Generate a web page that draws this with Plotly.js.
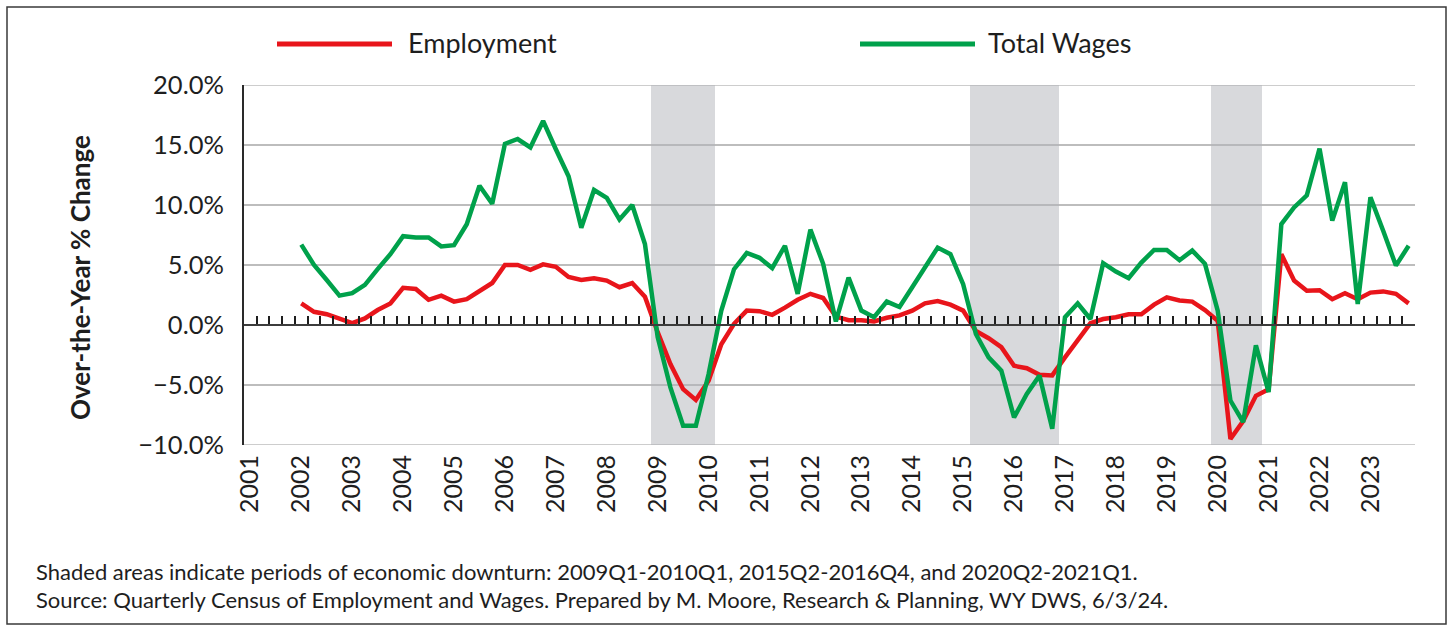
<!DOCTYPE html>
<html>
<head>
<meta charset="utf-8">
<script src="https://cdn.plot.ly/plotly-3.0.1.min.js"></script>
<style>
  body { margin: 0; background: #fff; }
  #chart { width: 1453px; height: 630px; }
</style>
</head>
<body>
<div id="chart"></div>
<script>
// axis years (first year has no over-the-year value)
var years = ['2001', '2002', '2003', '2004', '2005', '2006', '2007', '2008', '2009', '2010', '2011', '2012',
  '2013', '2014', '2015', '2016', '2017', '2018', '2019', '2020', '2021', '2022', '2023'];

// quarterly over-the-year % change, 2002Q1 .. 2023Q4
var employment = [
  1.8, 1.1, 0.9, 0.5,
  0.15, 0.55, 1.25, 1.8,
  3.1, 3.0, 2.1, 2.45,
  1.95, 2.15, 2.8, 3.5,
  5.0, 5.0, 4.6, 5.05,
  4.85, 4.0, 3.75, 3.9,
  3.7, 3.15, 3.5, 2.35,
  -0.6, -3.25, -5.35, -6.25,
  -4.65, -1.6, 0.1, 1.2,
  1.15, 0.85, 1.45, 2.1,
  2.6, 2.25, 0.7, 0.4,
  0.4, 0.3, 0.6, 0.8,
  1.2, 1.8, 2.0, 1.7,
  1.2, -0.5, -1.1, -1.85,
  -3.4, -3.6, -4.15, -4.2,
  -2.7, -1.3, 0.15, 0.5,
  0.65, 0.9, 0.9, 1.7,
  2.3, 2.05, 1.95, 1.25,
  0.35, -9.5, -8.0, -5.9,
  -5.35, 5.9, 3.7, 2.85,
  2.9, 2.15, 2.65, 2.15,
  2.7, 2.8, 2.6, 1.8
];

var totalWages = [
  6.7, 5.0, 3.75, 2.45,
  2.65, 3.35, 4.65, 5.9,
  7.4, 7.3, 7.3, 6.55,
  6.65, 8.4, 11.6, 10.1,
  15.1, 15.5, 14.8, 17.0,
  14.65, 12.4, 8.1, 11.25,
  10.6, 8.8, 10.0, 6.75,
  -1.0, -5.2, -8.4, -8.4,
  -4.1, 1.2, 4.65, 6.0,
  5.6, 4.75, 6.6, 2.6,
  7.95, 5.1, 0.3, 3.95,
  1.2, 0.65, 1.95, 1.5,
  3.15, 4.8, 6.45, 5.9,
  3.4, -0.75, -2.7, -3.8,
  -7.7, -5.75, -4.2, -8.65,
  0.65, 1.8, 0.5, 5.15,
  4.45, 3.9, 5.2, 6.25,
  6.25, 5.4, 6.2, 5.1,
  1.2, -6.3, -8.1, -1.7,
  -5.6, 8.4, 9.8, 10.8,
  14.7, 8.7, 11.9, 1.75,
  10.65, 7.85, 4.95, 6.6
];

// shaded quarters as drawn on the chart
var downturns = ['2009Q1', '2009Q2', '2009Q3', '2009Q4', '2010Q1',
  '2015Q2', '2015Q3', '2015Q4', '2016Q1', '2016Q2', '2016Q3', '2016Q4',
  '2020Q1', '2020Q2', '2020Q3', '2020Q4'];

var seriesNames = ['Employment', 'Total Wages'];
var seriesColors = ['#E8151B', '#00A14B'];

var notes = [
  'Shaded areas indicate periods of economic downturn: 2009Q1-2010Q1, 2015Q2-2016Q4, and 2020Q2-2021Q1.',
  'Source: Quarterly Census of Employment and Wages. Prepared by M. Moore, Research & Planning, WY DWS, 6/3/24.'
];

var quarters = [];
years.forEach(function (yr) {
  for (var q = 1; q <= 4; q++) quarters.push(yr + 'Q' + q);
});
var dataQuarters = quarters.slice(quarters.indexOf('2002Q1'));
var yearTicks = quarters.filter(function (q) { return q.slice(-2) == 'Q1'; });

var yMin = -10, yMax = 20;
var gridColor = '#bdbdbd';

// plot box in page pixels, used for placing the extra text
var L = 244, R = 1415, T = 85, B = 445;
function fx(p) { return (p - L) / (R - L); }
function fy(p) { return (B - p) / (B - T); }

var font = 'Lato, "Open Sans", sans-serif';
var ink = '#1e1e1e';

var shade = {
  type: 'bar',
  x: downturns,
  y: downturns.map(function () { return yMax - yMin; }),
  base: yMin,
  width: 1,
  marker: { color: 'rgba(178,180,186,0.5)', line: { width: 0 } },
  hoverinfo: 'skip',
  showlegend: false,
  xaxis: 'x',
  yaxis: 'y'
};

var data = [shade];
[employment, totalWages].forEach(function (vals, k) {
  data.push({
    type: 'scatter',
    mode: 'lines',
    name: seriesNames[k],
    x: dataQuarters,
    y: vals,
    line: { color: seriesColors[k], width: 4.5 },
    xaxis: 'x2',
    yaxis: 'y',
    showlegend: false
  });
});

var shapes = [
  { type: 'rect', xref: 'paper', yref: 'paper', x0: fx(7), x1: fx(1446), y0: fy(624), y1: fy(7),
    line: { color: '#3a3a3a', width: 1.5 } },
  // plotly skips the gridlines on the range ends, so draw those two
  { type: 'line', xref: 'paper', yref: 'y', x0: 0, x1: 1, y0: yMax, y1: yMax, layer: 'below',
    line: { color: gridColor, width: 1.6 } },
  { type: 'line', xref: 'paper', yref: 'y', x0: 0, x1: 1, y0: yMin, y1: yMin, layer: 'below',
    line: { color: gridColor, width: 1.6 } },
  // hand-made legend to get the long line samples
  { type: 'line', xref: 'paper', yref: 'paper', x0: fx(277), x1: fx(392), y0: fy(44), y1: fy(44),
    line: { color: seriesColors[0], width: 5 } },
  { type: 'line', xref: 'paper', yref: 'paper', x0: fx(860), x1: fx(975), y0: fy(44), y1: fy(44),
    line: { color: seriesColors[1], width: 5 } }
];

var annotations = [
  { text: seriesNames[0], xref: 'paper', yref: 'paper', x: fx(406), y: fy(43), xanchor: 'left', yanchor: 'middle',
    showarrow: false, font: { family: font, size: 27, color: ink } },
  { text: seriesNames[1], xref: 'paper', yref: 'paper', x: fx(986), y: fy(43), xanchor: 'left', yanchor: 'middle',
    showarrow: false, font: { family: font, size: 27, color: ink } },
  { text: 'Over-the-Year % Change', xref: 'paper', yref: 'paper', x: fx(80), y: fy(278), textangle: -90,
    xanchor: 'center', yanchor: 'middle', showarrow: false,
    font: { family: font, size: 26, color: ink, weight: 'bold' } },
  { text: notes[0], xref: 'paper', yref: 'paper', x: fx(34), y: fy(571), xanchor: 'left', yanchor: 'middle',
    showarrow: false, font: { family: font, size: 22, color: ink } },
  { text: notes[1], xref: 'paper', yref: 'paper', x: fx(34), y: fy(599), xanchor: 'left', yanchor: 'middle',
    showarrow: false, font: { family: font, size: 22, color: ink } }
];

var layout = {
  width: 1453,
  height: 630,
  margin: { l: L, r: 1453 - R, t: T, b: 630 - B, pad: 0 },
  paper_bgcolor: '#fff',
  plot_bgcolor: '#fff',
  showlegend: false,
  bargap: 0,
  font: { family: font, color: ink },
  xaxis: {
    type: 'category',
    categoryorder: 'array',
    categoryarray: quarters,
    range: [-0.5, quarters.length - 0.5],
    tickmode: 'array',
    tickvals: yearTicks,
    ticktext: years,
    tickangle: -90,
    ticks: '',
    ticklabelstandoff: 4,
    tickfont: { family: font, size: 25, color: ink },
    showgrid: false,
    showline: false,
    zeroline: false,
    automargin: false,
    fixedrange: true
  },
  // second x axis only draws the quarter ticks on the 0% line
  xaxis2: {
    type: 'category',
    overlaying: 'x',
    anchor: 'free',
    position: (0 - yMin) / (yMax - yMin),
    side: 'bottom',
    categoryorder: 'array',
    categoryarray: quarters,
    range: [-0.5, quarters.length - 0.5],
    tickmode: 'array',
    tickvals: quarters,
    tickson: 'boundaries',
    ticks: 'inside',
    ticklen: 8,
    tickwidth: 2,
    tickcolor: '#1e1e1e',
    showticklabels: false,
    showgrid: false,
    showline: true,
    linecolor: '#3c3c3c',
    linewidth: 2,
    zeroline: false,
    automargin: false,
    fixedrange: true
  },
  yaxis: {
    range: [yMin, yMax],
    tickmode: 'linear',
    tick0: yMin,
    dtick: 5,
    tickformat: '.1f',
    ticksuffix: '%',
    ticks: '',
    ticklabelstandoff: 13,
    tickfont: { family: font, size: 25.5, color: ink },
    showgrid: true,
    gridcolor: gridColor,
    gridwidth: 1.6,
    zeroline: false,
    showline: true,
    linecolor: '#2a2a2a',
    linewidth: 2,
    automargin: false,
    fixedrange: true
  },
  shapes: shapes,
  annotations: annotations
};

Plotly.newPlot('chart', data, layout, { displayModeBar: false, staticPlot: true });
</script>
</body>
</html>
